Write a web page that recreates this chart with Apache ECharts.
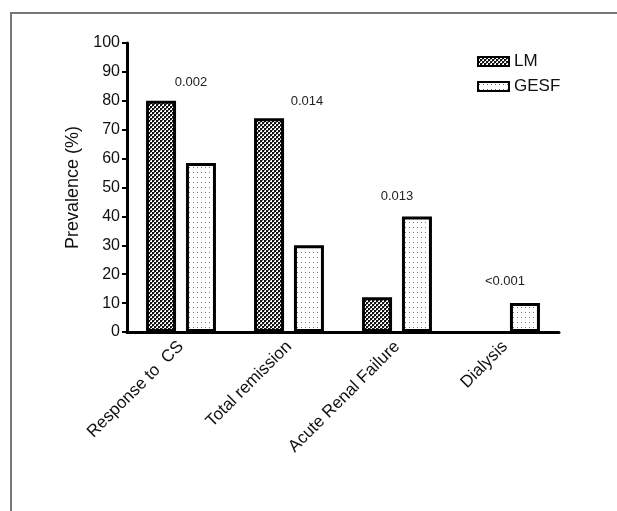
<!DOCTYPE html>
<html>
<head>
<meta charset="utf-8">
<script src="https://cdn.jsdelivr.net/npm/echarts@6/dist/echarts.min.js"></script>
<style>
  html, body { margin: 0; padding: 0; background: #fff; }
  #chartmain { width: 617px; height: 511px; }
</style>
</head>
<body>
<div id="chartmain"></div>
<script>
var categories = ['Response to  CS', 'Total remission', 'Acute Renal Failure', 'Dialysis'];
var lmValues = [80, 74, 12, 0];
var gesfValues = [58.5, 30, 40, 10];
var pValues = ['0.002', '0.014', '0.013', '<0.001'];
var yTicks = [0, 10, 20, 30, 40, 50, 60, 70, 80, 90, 100];

// fill patterns
function makePattern(w, h, draw) {
	var c = document.createElement('canvas');
	c.width = w;
	c.height = h;
	var ctx = c.getContext('2d');
	draw(ctx);
	return { image: c, repeat: 'repeat' };
}
var lmPattern = makePattern(4, 4, function(ctx) {
	ctx.fillStyle = '#fff';
	ctx.fillRect(0, 0, 4, 4);
	ctx.fillStyle = '#111';
	ctx.fillRect(0, 0, 2, 2);
	ctx.fillRect(2, 2, 2, 2);
	ctx.fillStyle = '#777';
	ctx.fillRect(2, 0, 1, 1);
	ctx.fillRect(0, 2, 1, 1);
});
var gesfPattern = makePattern(4, 5, function(ctx) {
	ctx.fillStyle = '#fff';
	ctx.fillRect(0, 0, 4, 5);
	ctx.fillStyle = '#777';
	ctx.fillRect(1, 2, 1, 1);
});

var font = 'Liberation Sans, Arial, sans-serif';

// zero-height bars get no outline
function barData(values) {
	return values.map(function(v) {
		return v === 0 ? { value: v, itemStyle: { borderWidth: 0 } } : v;
	});
}

var pTexts = [
	{ x: 191, y: 82 },
	{ x: 307, y: 101 },
	{ x: 397, y: 196 },
	{ x: 505, y: 281 }
];

var graphics = [{
	type: 'polyline',
	shape: { points: [[11, 520], [11, 13], [630, 13]] },
	style: { stroke: '#777', lineWidth: 2, fill: null },
	silent: true
}];
for (var i = 0; i < pValues.length; i++) {
	graphics.push({
		type: 'text',
		x: pTexts[i].x,
		y: pTexts[i].y,
		style: {
			text: pValues[i],
			fill: '#222',
			font: '13px ' + font,
			textAlign: 'center',
			textVerticalAlign: 'middle'
		}
	});
}

var option = {
	backgroundColor: '#fff',
	animation: false,
	grid: {
		left: 127,
		right: 58,
		top: 43,
		bottom: 179
	},
	legend: {
		orient: 'vertical',
		left: 472,
		top: 48,
		itemWidth: 31,
		itemHeight: 9,
		itemGap: 8,
		icon: 'rect',
		textStyle: { fontFamily: font, fontSize: 17, color: '#111' },
		data: ['LM', 'GESF']
	},
	xAxis: {
		type: 'category',
		data: categories,
		axisLine: { lineStyle: { color: '#000', width: 3 } },
		axisTick: { alignWithLabel: true, length: 5, lineStyle: { color: '#000', width: 2 } },
		axisLabel: {
			rotate: 45,
			margin: 12,
			fontFamily: font,
			fontSize: 17,
			color: '#111'
		}
	},
	yAxis: {
		type: 'value',
		min: yTicks[0],
		max: yTicks[yTicks.length - 1],
		interval: 10,
		name: 'Prevalence (%)',
		nameLocation: 'middle',
		nameGap: 45,
		nameTextStyle: { fontFamily: font, fontSize: 18, color: '#111' },
		splitLine: { show: false },
		axisLine: { show: true, lineStyle: { color: '#000', width: 3 } },
		axisTick: { show: true, length: 5, lineStyle: { color: '#000', width: 2 } },
		axisLabel: { fontFamily: font, fontSize: 16, color: '#111', margin: 7 }
	},
	series: [{
		name: 'LM',
		type: 'bar',
		data: barData(lmValues),
		barWidth: 30,
		barGap: '33%',
		itemStyle: { color: lmPattern, borderColor: '#000', borderWidth: 3 }
	}, {
		name: 'GESF',
		type: 'bar',
		data: barData(gesfValues),
		barWidth: 30,
		itemStyle: { color: gesfPattern, borderColor: '#000', borderWidth: 3 }
	}],
	graphic: graphics
};

var myChart = echarts.init(document.getElementById('chartmain'));
myChart.setOption(option);
</script>
</body>
</html>
